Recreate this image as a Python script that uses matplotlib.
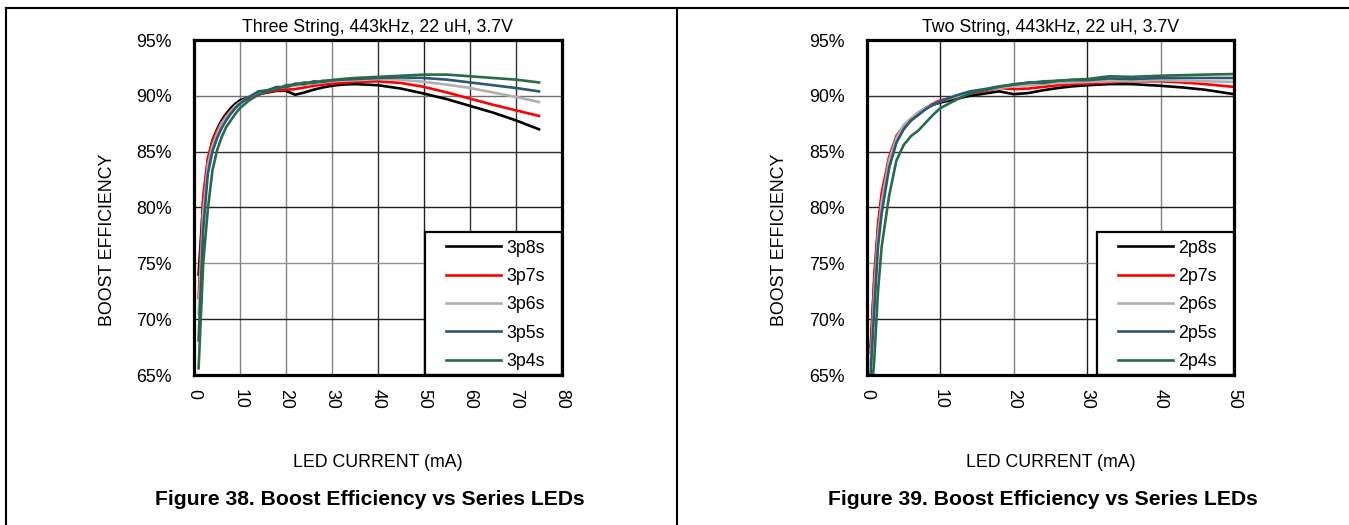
import matplotlib
matplotlib.use("Agg")
import matplotlib.pyplot as plt
from matplotlib.lines import Line2D
from matplotlib.patches import Rectangle
from matplotlib.ticker import FixedLocator

plt.rcParams['font.family'] = ['Liberation Sans', 'DejaVu Sans']

# ---------------- data ----------------
current_3s = [1, 2, 3, 4, 5, 6, 7, 8, 9, 10, 12, 14, 16, 18, 20, 22, 24, 26, 28, 30,
              32, 35, 40, 45, 50, 55, 60, 65, 70, 75]
eff_3p8s = [74.0, 80.5, 84.2, 86.0, 87.0, 87.8, 88.4, 88.9, 89.3, 89.6, 89.9, 90.15, 90.3, 90.45,
            90.45, 90.1, 90.3, 90.55, 90.75, 90.9, 91.0, 91.05, 90.95, 90.65, 90.2, 89.7, 89.1,
            88.5, 87.8, 87.0]
eff_3p7s = [71.9, 81.0, 84.4, 85.9, 86.9, 87.6, 88.2, 88.7, 89.1, 89.4, 89.8, 90.1, 90.35, 90.5,
            90.55, 90.6, 90.75, 90.9, 91.0, 91.1, 91.15, 91.25, 91.3, 91.15, 90.8, 90.3, 89.75,
            89.2, 88.7, 88.2]
eff_3p6s = [70.5, 79.5, 83.8, 85.5, 86.6, 87.5, 88.1, 88.6, 89.1, 89.4, 89.9, 90.3, 90.5, 90.7,
            90.8, 90.9, 91.0, 91.1, 91.2, 91.3, 91.35, 91.4, 91.5, 91.45, 91.25, 91.0, 90.7,
            90.3, 89.9, 89.45]
eff_3p5s = [68.1, 78.0, 83.0, 85.0, 86.2, 87.1, 87.8, 88.4, 88.9, 89.3, 89.9, 90.4, 90.5, 90.8,
            90.75, 91.1, 91.05, 91.3, 91.25, 91.4, 91.45, 91.5, 91.6, 91.65, 91.6, 91.45, 91.2,
            90.95, 90.7, 90.4]
eff_3p4s = [65.6, 75.0, 79.8, 83.3, 85.1, 86.3, 87.2, 87.8, 88.4, 88.9, 89.6, 90.1, 90.45, 90.6,
            90.95, 91.0, 91.2, 91.15, 91.35, 91.4, 91.5, 91.6, 91.7, 91.8, 91.9, 91.9, 91.75,
            91.6, 91.45, 91.2]

current_2s = [0.5, 1, 1.5, 2, 3, 4, 5, 6, 7, 8, 9, 10, 12, 14, 16, 18, 20, 22, 24, 26, 28, 30,
              33, 36, 40, 43, 46, 50]
eff_2p8s = [67.5, 73.5, 78.0, 81.0, 84.3, 86.0, 87.2, 87.9, 88.5, 88.9, 89.2, 89.4, 89.7, 90.0,
            90.2, 90.4, 90.15, 90.25, 90.5, 90.7, 90.85, 90.95, 91.05, 91.05, 90.9, 90.75, 90.55,
            90.15]
eff_2p7s = [67.0, 74.0, 78.5, 81.3, 84.5, 86.4, 87.3, 87.8, 88.3, 88.9, 89.3, 89.6, 89.9, 90.2,
            90.4, 90.7, 90.6, 90.65, 90.8, 90.95, 91.05, 91.1, 91.2, 91.3, 91.3, 91.2, 91.05, 90.8]
eff_2p6s = [66.0, 72.5, 77.5, 80.5, 84.2, 86.2, 87.4, 88.0, 88.5, 88.9, 89.2, 89.5, 89.9, 90.3,
            90.5, 90.7, 90.85, 90.95, 91.05, 91.15, 91.2, 91.25, 91.3, 91.35, 91.4, 91.35, 91.3,
            91.25]
eff_2p5s = [65.2, 71.0, 76.5, 79.5, 83.5, 85.8, 87.0, 87.8, 88.3, 88.8, 89.2, 89.5, 90.0, 90.4,
            90.6, 90.85, 91.0, 91.2, 91.15, 91.35, 91.4, 91.4, 91.55, 91.5, 91.6, 91.6, 91.6, 91.6]
eff_2p4s = [62.0, 66.5, 72.5, 76.5, 81.0, 84.2, 85.6, 86.4, 86.9, 87.6, 88.3, 88.9, 89.6, 90.2,
            90.5, 90.8, 91.05, 91.15, 91.3, 91.35, 91.45, 91.5, 91.75, 91.7, 91.8, 91.85, 91.9,
            91.95]

labels_3s = ['3p8s', '3p7s', '3p6s', '3p5s', '3p4s']
labels_2s = ['2p8s', '2p7s', '2p6s', '2p5s', '2p4s']
y_ticks = [65, 70, 75, 80, 85, 90, 95]
x_ticks_3s = [0, 10, 20, 30, 40, 50, 60, 70, 80]
x_ticks_2s = [0, 10, 20, 30, 40, 50]

title_3s = 'Three String, 443kHz, 22 uH, 3.7V'
title_2s = 'Two String, 443kHz, 22 uH, 3.7V'
caption_3s = 'Figure 38. Boost Efficiency vs Series LEDs'
caption_2s = 'Figure 39. Boost Efficiency vs Series LEDs'

colors = ['#000000', '#ff0000', '#b0b0b0', '#2b5876', '#2a6b47']

# ---------------- layout ----------------
W, H = 1349, 525
fig = plt.figure(figsize=(W / 100, H / 100), dpi=100)
fig.patch.set_facecolor('white')


def fx(x):
    return x / W


def fy(y):
    return 1 - y / H


FS = 12.8


def make_panel(left, right, xmax, xticks, xdata, series, labels, title, caption,
               vgrid_colors, hgrid_colors):
    top, bottom = 40, 375
    ax = fig.add_axes([fx(left), fy(bottom), fx(right - left), (bottom - top) / H])
    ax.set_xlim(0, xmax)
    ax.set_ylim(65, 95)
    # grid
    for xv, c in zip(xticks[1:-1], vgrid_colors):
        ax.axvline(xv, color=c, lw=1.0, zorder=1)
    for yv, c in zip(y_ticks[1:-1], hgrid_colors):
        ax.axhline(yv, color=c, lw=1.0, zorder=1)
    for ys, c, lab in zip(series, colors, labels):
        ax.plot(xdata, ys, color=c, lw=1.9, label=lab, zorder=3, solid_joinstyle='round')
    ax.xaxis.set_major_locator(FixedLocator(xticks))
    ax.yaxis.set_major_locator(FixedLocator(y_ticks))
    ax.set_xticklabels([str(v) for v in xticks], rotation=270, fontsize=FS)
    ax.set_yticklabels([f'{v}%' for v in y_ticks], fontsize=FS)
    ax.tick_params(length=0, pad=10)
    ax.tick_params(axis='y', pad=16)
    for sp in ax.spines.values():
        sp.set_linewidth(2.3)
        sp.set_color('black')
        sp.set_zorder(6)
    # legend box
    bw = 0.372
    bh = 0.427
    rect = Rectangle((1 - bw, 0), bw, bh, transform=ax.transAxes, facecolor='white',
                     edgecolor='black', lw=1.6, zorder=4)
    ax.add_patch(rect)
    handles = [Line2D([], [], color=c, lw=1.9) for c in colors]
    leg = ax.legend(handles, labels, loc='center', bbox_to_anchor=(1 - bw / 2 + 0.005, bh / 2 - 0.004),
                    frameon=False, fontsize=FS, handlelength=3.1, handletextpad=0.3,
                    labelspacing=0.64, borderaxespad=0)
    leg.set_zorder(5)
    cx = (left + right) / 2
    fig.text(fx(cx), fy(31.5), title, ha='center', va='baseline', fontsize=FS)
    fig.text(fx(cx), fy(467), 'LED CURRENT (mA)', ha='center', va='baseline', fontsize=FS)
    fig.text(fx(cx - 8), fy(505), caption, ha='center', va='baseline', fontsize=15.2,
             fontweight='bold')
    fig.text(fx(left - 87), fy(240), 'BOOST EFFICIENCY', ha='center', va='center',
             rotation=90, fontsize=FS)
    return ax


make_panel(194, 562, 80, x_ticks_3s, current_3s,
           [eff_3p8s, eff_3p7s, eff_3p6s, eff_3p5s, eff_3p4s], labels_3s, title_3s, caption_3s,
           ['#808080', '#808080', '#808080', '#303030', '#202020', '#303030', '#303030'],
           ['#202020', '#909090', '#202020', '#303030', '#707070'])
make_panel(867, 1234, 50, x_ticks_2s, current_2s,
           [eff_2p8s, eff_2p7s, eff_2p6s, eff_2p5s, eff_2p4s], labels_2s, title_2s, caption_2s,
           ['#202020', '#808080', '#202020', '#808080'],
           ['#202020', '#909090', '#202020', '#303030', '#303030'])

# page borders
fig.add_artist(Line2D([fx(6), 1], [fy(8), fy(8)], transform=fig.transFigure, color='black', lw=1.5))
fig.add_artist(Line2D([fx(6), fx(6)], [fy(8), 0], transform=fig.transFigure, color='black', lw=1.5))
fig.add_artist(Line2D([fx(677), fx(677)], [fy(8), 0], transform=fig.transFigure, color='black', lw=1.5))

fig.savefig('out.png', dpi=100)
